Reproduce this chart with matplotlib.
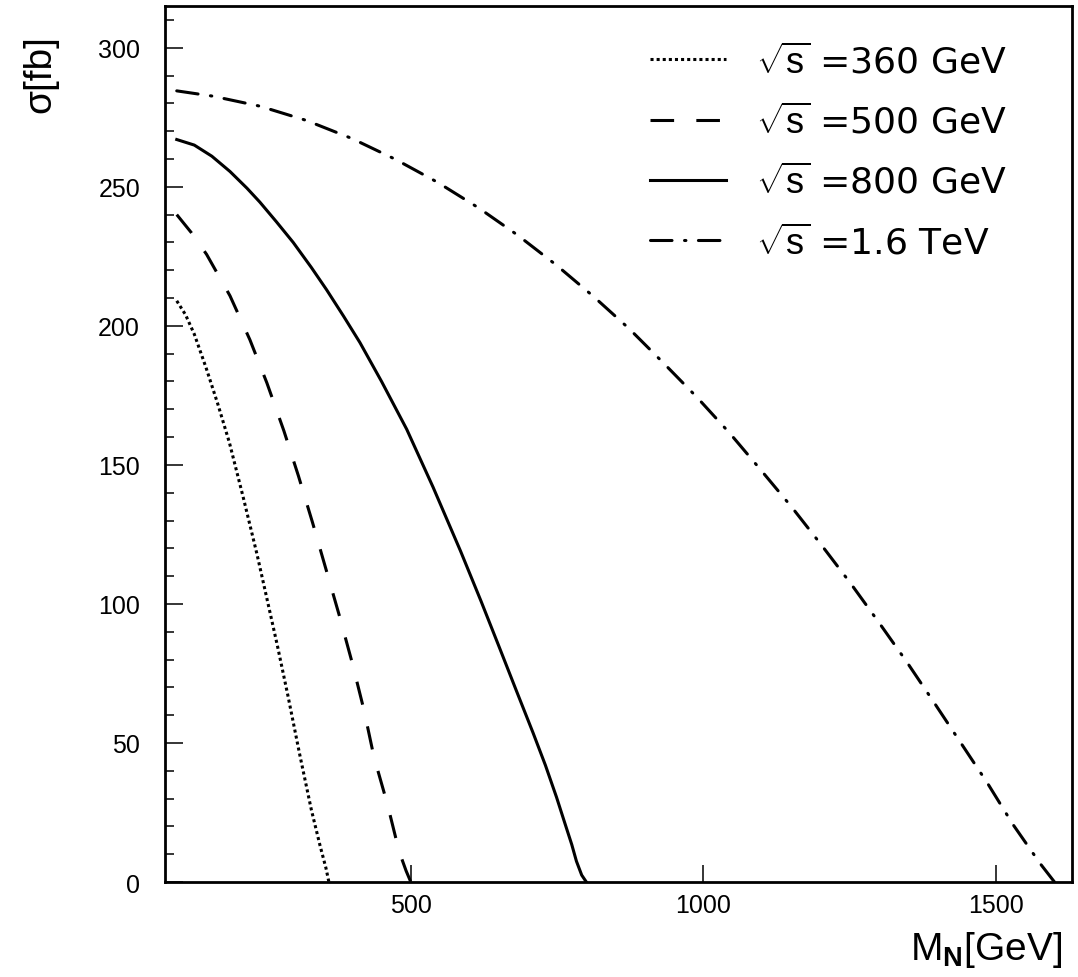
import matplotlib
matplotlib.use('Agg')
import matplotlib.pyplot as plt
from matplotlib.ticker import MultipleLocator

# cross sections sigma [fb] vs heavy neutrino mass M_N [GeV]
mass_360 = [100, 115, 130, 150, 170, 190, 214, 237, 254, 272, 290, 310, 330, 345, 355, 360]
sigma_360 = [209, 204, 197, 185, 172, 158, 138, 118, 102, 85, 67, 46, 26, 13, 5, 0]

mass_500 = [100, 125, 151, 191, 225, 254, 283, 308, 332, 355, 378, 400, 420, 437, 460, 480, 492, 500]
sigma_500 = [240, 233.5, 225.7, 210.8, 195, 179.5, 162.3, 146, 129.3, 112.5, 95.7, 78.7, 61.8, 45, 28, 11, 4, 0]

mass_800 = [100, 130, 160, 191, 220, 242, 270, 299, 330, 356, 385, 413, 450, 493, 538, 585,
            620, 652, 680, 709, 730, 749, 765, 775, 783, 792, 800]
sigma_800 = [267, 265, 261, 255.5, 249.5, 244.5, 237.5, 230, 221, 213, 203.5, 194, 180, 162.8, 142, 119,
             101, 84, 69, 53.6, 42, 30.5, 20, 13.5, 7.5, 2.5, 0]

mass_1600 = [100, 161.5, 242, 321, 399, 473.5, 545, 616, 682.6, 749, 812, 873, 931, 989.5, 1045,
             1098, 1151, 1202, 1252.6, 1300, 1348, 1394, 1440, 1485.6, 1529, 1576, 1600]
sigma_1600 = [284.5, 282.6, 279, 273.9, 267.4, 259.9, 251.7, 242.4, 232.6, 221.8, 210.6, 199, 186.8, 174.2, 161.4,
              148.2, 134.8, 121.1, 107.1, 93.3, 79, 64.6, 50, 35.5, 20.7, 6.5, 0]

labels = [r'$\sqrt{\mathrm{s}}$ =360 GeV', r'$\sqrt{\mathrm{s}}$ =500 GeV',
          r'$\sqrt{\mathrm{s}}$ =800 GeV', r'$\sqrt{\mathrm{s}}$ =1.6 TeV']

plt.rcParams['font.family'] = ['Liberation Sans', 'DejaVu Sans']
plt.rcParams['mathtext.fontset'] = 'custom'
plt.rcParams['mathtext.rm'] = 'Liberation Sans'
plt.rcParams['mathtext.it'] = 'Liberation Sans:italic'
plt.rcParams['mathtext.bf'] = 'Liberation Sans:bold'
plt.rcParams['lines.scale_dashes'] = False

fig = plt.figure(figsize=(10.78, 9.78), dpi=100)
ax = fig.add_axes([0.1531, 0.0971, 0.8414, 0.8957])

lw = 2.2
ax.plot(mass_360, sigma_360, color='k', lw=lw, dashes=(2.2, 2.2), dash_capstyle='butt', label=labels[0])
ax.plot(mass_500, sigma_500, color='k', lw=lw, dashes=(17, 16), dash_capstyle='butt', label=labels[1])
ax.plot(mass_800, sigma_800, color='k', lw=lw, label=labels[2])
ax.plot(mass_1600, sigma_1600, color='k', lw=lw, dashes=(15.5, 9.0, 1.0, 9.0), dash_capstyle='round',
        label=labels[3])

ax.set_xlim(80, 1630)
ax.set_ylim(0, 315)

ax.xaxis.set_major_locator(MultipleLocator(500))
ax.yaxis.set_major_locator(MultipleLocator(50))
ax.yaxis.set_minor_locator(MultipleLocator(10))
ax.tick_params(axis='both', which='both', direction='in', width=1.1, labelsize=18)
ax.tick_params(axis='y', which='major', length=13, pad=18)
ax.tick_params(axis='y', which='minor', length=6.5)
ax.tick_params(axis='x', which='major', length=12.5, pad=8)
for sp in ax.spines.values():
    sp.set_linewidth(2)

# legend text in a wider face, like the original
leg = ax.legend(loc='upper left', bbox_to_anchor=(0.535, 0.958), frameon=False,
                prop={'family': 'DejaVu Sans', 'size': 26},
                handlelength=2.1, handletextpad=0.83, labelspacing=0.67, borderpad=0, borderaxespad=0)

fig.text(1062 / 1078, 1 - 960 / 978, r'M$_{\mathbf{N}}$[GeV]', fontsize=28, ha='right', va='baseline')
fig.text(40 / 1078, 1 - 35 / 978, 'σ[fb]', fontsize=28, rotation=90, ha='center', va='top')

fig.savefig('out.png', dpi=100)
